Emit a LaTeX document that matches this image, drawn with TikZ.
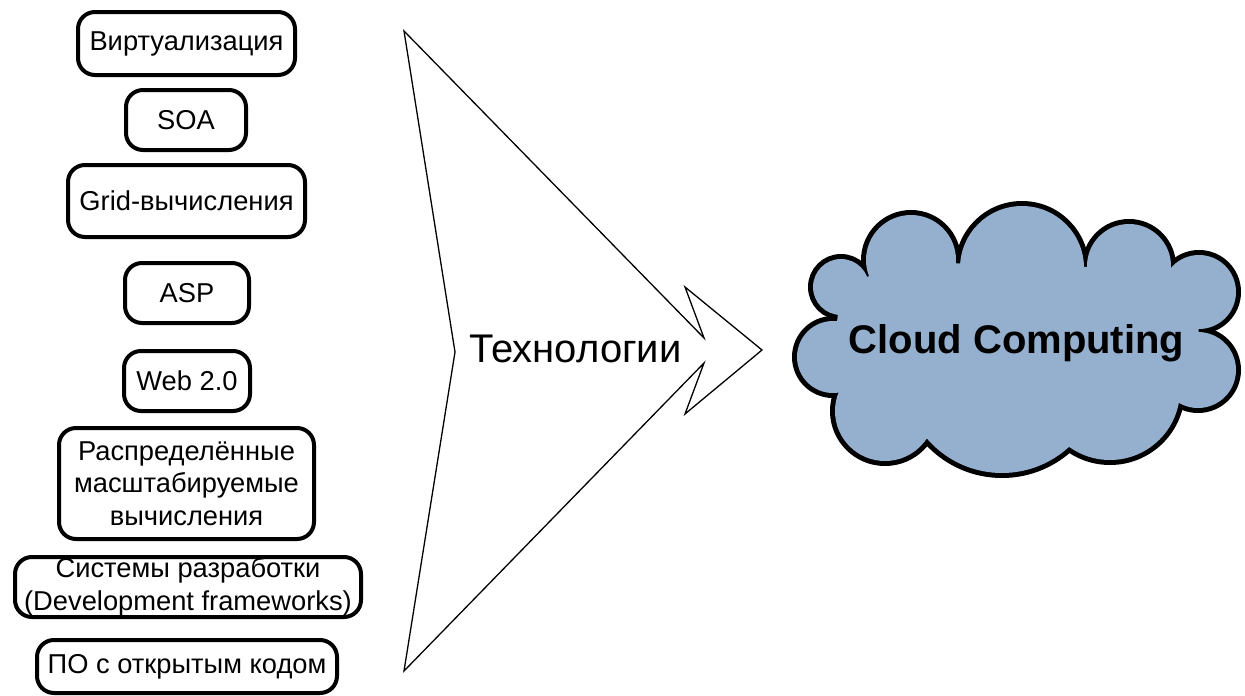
\documentclass[tikz,border=0pt]{standalone}
\usepackage{fontspec}
\setmainfont{Liberation Sans}
\newcommand\boxfont{\fontsize{27.3}{32.5}\selectfont}
\newcommand\bigfont{\fontsize{40}{48}\selectfont}
\definecolor{cloudblue}{RGB}{149,176,206}
\begin{document}
\begin{tikzpicture}[x=1pt,y=-1pt,
  techbox/.style={draw, line width=4pt, rounded corners=17pt, inner sep=0pt, align=center, font=\boxfont},
  arrowshape/.style={draw, line width=1.3pt, line join=miter},
  ring/.style={draw=black, line width=10pt}]
\useasboundingbox (0,0) rectangle (1245,696);

% left boxes
\node[techbox, minimum width=217pt, minimum height=63pt] (b1) at (186.5,43.5) {Виртуализация};
\node[techbox, minimum width=120pt, minimum height=60pt] (b2) at (186,120) {SOA};
\node[techbox, minimum width=237pt, minimum height=72pt] (b3) at (186.5,201) {Grid-вычисления};
\node[techbox, minimum width=124pt, minimum height=60pt] (b4) at (187,293) {ASP};
\node[techbox, minimum width=126pt, minimum height=60pt] (b5) at (187,381) {Web 2.0};
\node[techbox, minimum width=255pt, minimum height=111pt] (b6) at (186.5,483.5) {Распределённые\\масштабируемые\\вычисления};
\node[techbox, minimum width=346pt, minimum height=60pt] (b7) at (188,587) {Системы разработки\\(Development frameworks)};
\node[techbox, minimum width=300pt, minimum height=53pt] (b8) at (187,666.5) {ПО с открытым кодом};

% big arrow
\draw[arrowshape] (404,31) -- (704,338) -- (685,287) -- (762,350) -- (685,414) -- (704,363) -- (404,671) -- (455,352) -- cycle;
\node[font=\bigfont, anchor=base, inner sep=0pt] (tech) at (575.5,362) {Технологии};

% cloud: outline pass
\foreach \cx/\cy/\r in {841/287/28, 911/260/45, 1022/268/62, 1129/266/42, 1199/292/37, 1198/370/38, 1110/390/70, 1002/374/99, 885/411/50, 833/357/36}
  \draw[ring] (\cx,\cy) circle[radius=\r pt];
% cloud: fill pass
\fill[cloudblue] (841,287) -- (911,260) -- (1022,268) -- (1129,266) -- (1199,292) -- (1198,370) -- (1110,390) -- (1002,374) -- (885,411) -- (833,357) -- cycle;
\foreach \cx/\cy/\r in {841/287/28, 911/260/45, 1022/268/62, 1129/266/42, 1199/292/37, 1198/370/38, 1110/390/70, 1002/374/99, 885/411/50, 833/357/36}
  \fill[cloudblue] (\cx,\cy) circle[radius=\r pt];
\node[font=\bfseries\bigfont, anchor=base, inner sep=0pt] (cc) at (1016.5,353) {Cloud Computing};
\end{tikzpicture}
\end{document}
